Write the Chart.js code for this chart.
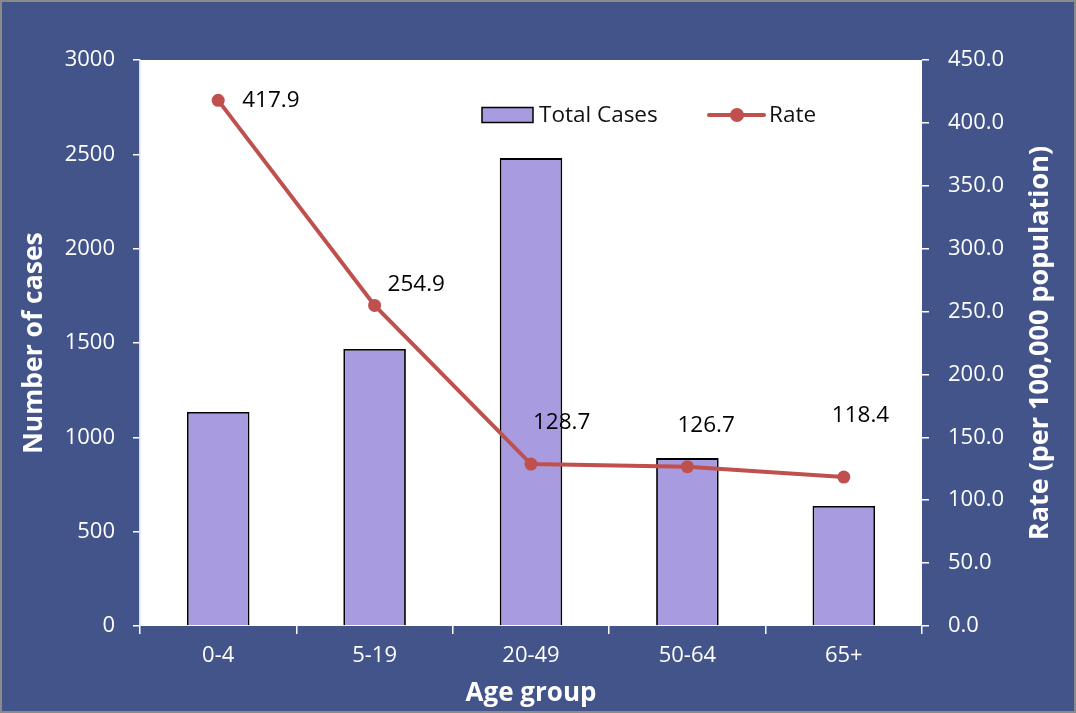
<!DOCTYPE html>
<html><head><meta charset="utf-8">
<script src="https://cdn.jsdelivr.net/npm/chart.js@4/dist/chart.umd.min.js"></script>
<style>html,body{margin:0;padding:0;background:#43548B;overflow:hidden}
#wrap{width:1076px;height:713px;position:relative}
canvas{display:block}
</style></head><body><div id="wrap"><canvas id="c" width="1076" height="713"></canvas></div>
<script>
const categories = ['0-4', '5-19', '20-49', '50-64', '65+'];
const totalCases = [1134, 1468, 2480, 890, 636];
const rates = [417.9, 254.9, 128.7, 126.7, 118.4];
const rateLabels = ['417.9', '254.9', '128.7', '126.7', '118.4'];
const seriesNames = ['Total Cases', 'Rate'];
const axisTitles = { x: 'Age group', y: 'Number of cases', y1: 'Rate (per 100,000 population)' };

// style-only: pixel offsets for rate labels (relative to point)
const labelOffsets = [[24, 0], [13, -21], [2, -42], [-10, -41], [-12, -61]];

const FONT = "'Open Sans', 'DejaVu Sans', sans-serif";
const BG = '#43548B';
const BAR = '#A99BE0';
const LINE = '#C0504D';

const bgPlugin = {
  id: 'bg',
  beforeDraw(chart) {
    const { ctx, chartArea: a, width, height } = chart;
    ctx.save();
    ctx.fillStyle = BG;
    ctx.fillRect(0, 0, width, height);
    ctx.fillStyle = '#ffffff';
    ctx.fillRect(a.left, a.top, a.right - a.left, a.bottom - a.top);
    ctx.strokeStyle = '#8a8a8a';
    ctx.lineWidth = 2;
    ctx.strokeRect(1, 1, width - 2, height - 2);
    ctx.restore();
  }
};

const labelPlugin = {
  id: 'rateLabels',
  afterDatasetsDraw(chart) {
    const { ctx } = chart;
    const meta = chart.getDatasetMeta(0);
    ctx.save();
    ctx.font = `22.5px ${FONT}`;
    ctx.fillStyle = '#000';
    ctx.textAlign = 'left';
    ctx.textBaseline = 'middle';
    meta.data.forEach((pt, i) => {
      const o = labelOffsets[i];
      ctx.fillText(rateLabels[i], pt.x + o[0], pt.y + o[1]);
    });
    ctx.restore();
  }
};

const rightTitlePlugin = {
  id: 'rightTitle',
  afterDraw(chart) {
    const { ctx, chartArea: a } = chart;
    ctx.save();
    ctx.translate(1040, (a.top + a.bottom) / 2);
    ctx.rotate(-Math.PI / 2);
    ctx.font = `bold 27px ${FONT}`;
    ctx.fillStyle = '#ffffff';
    ctx.textAlign = 'center';
    ctx.textBaseline = 'middle';
    ctx.fillText(axisTitles.y1, 0, 0);
    ctx.restore();
  }
};

const legendPlugin = {
  id: 'customLegend',
  afterDraw(chart) {
    const { ctx, chartArea: a } = chart;
    ctx.save();
    const y = a.top + 55;
    let x = a.left + 342;
    ctx.fillStyle = BAR;
    ctx.fillRect(x, y - 7.5, 51, 15);
    ctx.strokeStyle = '#000';
    ctx.lineWidth = 1.5;
    ctx.strokeRect(x, y - 7.5, 51, 15);
    ctx.font = `22.5px ${FONT}`;
    ctx.fillStyle = '#111';
    ctx.textBaseline = 'middle';
    ctx.textAlign = 'left';
    ctx.fillText(seriesNames[0], x + 57, y + 1);
    x = a.left + 569;
    ctx.strokeStyle = LINE;
    ctx.lineWidth = 4;
    ctx.lineCap = 'round';
    ctx.beginPath();
    ctx.moveTo(x, y); ctx.lineTo(x + 55, y); ctx.stroke();
    ctx.fillStyle = LINE;
    ctx.beginPath(); ctx.arc(x + 28, y, 7, 0, Math.PI * 2); ctx.fill();
    ctx.fillStyle = '#111';
    ctx.fillText(seriesNames[1], x + 60, y + 1);
    ctx.restore();
  }
};

new Chart(document.getElementById('c'), {
  data: {
    labels: categories,
    datasets: [
      {
        type: 'line', label: seriesNames[1], data: rates, yAxisID: 'y1', order: 0,
        borderColor: LINE, backgroundColor: LINE, borderWidth: 4,
        pointRadius: 6.5, pointBackgroundColor: LINE, pointBorderColor: LINE, pointBorderWidth: 0,
        tension: 0
      },
      {
        type: 'bar', label: seriesNames[0], data: totalCases, yAxisID: 'y', order: 1,
        backgroundColor: BAR, borderColor: '#000', borderWidth: 1.8,
        categoryPercentage: 0.4, barPercentage: 1
      }
    ]
  },
  options: {
    responsive: false,
    animation: false,
    layout: { padding: { top: 60, left: 0, right: 0, bottom: 0 } },
    plugins: { legend: { display: false }, tooltip: { enabled: false } },
    scales: {
      x: {
        offset: true,
        grid: { offset: true, drawOnChartArea: false, drawTicks: true, tickLength: 8, color: '#ffffff', lineWidth: 1.5 },
        border: { display: false },
        ticks: { color: '#ffffff', font: { family: FONT, size: 22 }, padding: 9 },
        title: { display: true, text: axisTitles.x, color: '#ffffff', font: { family: FONT, size: 26, weight: 'bold' }, padding: { bottom: 4 } },
        afterFit(s) { s.height = 87; }
      },
      y: {
        position: 'left', min: 0, max: 3000,
        grid: { drawOnChartArea: false, drawTicks: true, tickLength: 7, color: '#ffffff', lineWidth: 1.5 },
        border: { display: true, color: '#d9def0', width: 1.5 },
        ticks: { stepSize: 500, color: '#ffffff', font: { family: FONT, size: 22 }, padding: 18, callback: v => String(v) },
        title: { display: true, text: axisTitles.y, color: '#ffffff', font: { family: FONT, size: 26.5, weight: 'bold' }, padding: { top: 19 } },
        afterFit(s) { s.width = 140; }
      },
      y1: {
        position: 'right', min: 0, max: 450,
        grid: { drawOnChartArea: false, drawTicks: true, tickLength: 7, color: '#ffffff', lineWidth: 1.5 },
        border: { display: false },
        ticks: { stepSize: 50, color: '#ffffff', font: { family: FONT, size: 22 }, padding: 19, callback: v => Number(v).toFixed(1) },
        title: { display: false },
        afterFit(s) { s.width = 154; }
      }
    }
  },
  plugins: [bgPlugin, labelPlugin, legendPlugin, rightTitlePlugin]
});
</script></body></html>
